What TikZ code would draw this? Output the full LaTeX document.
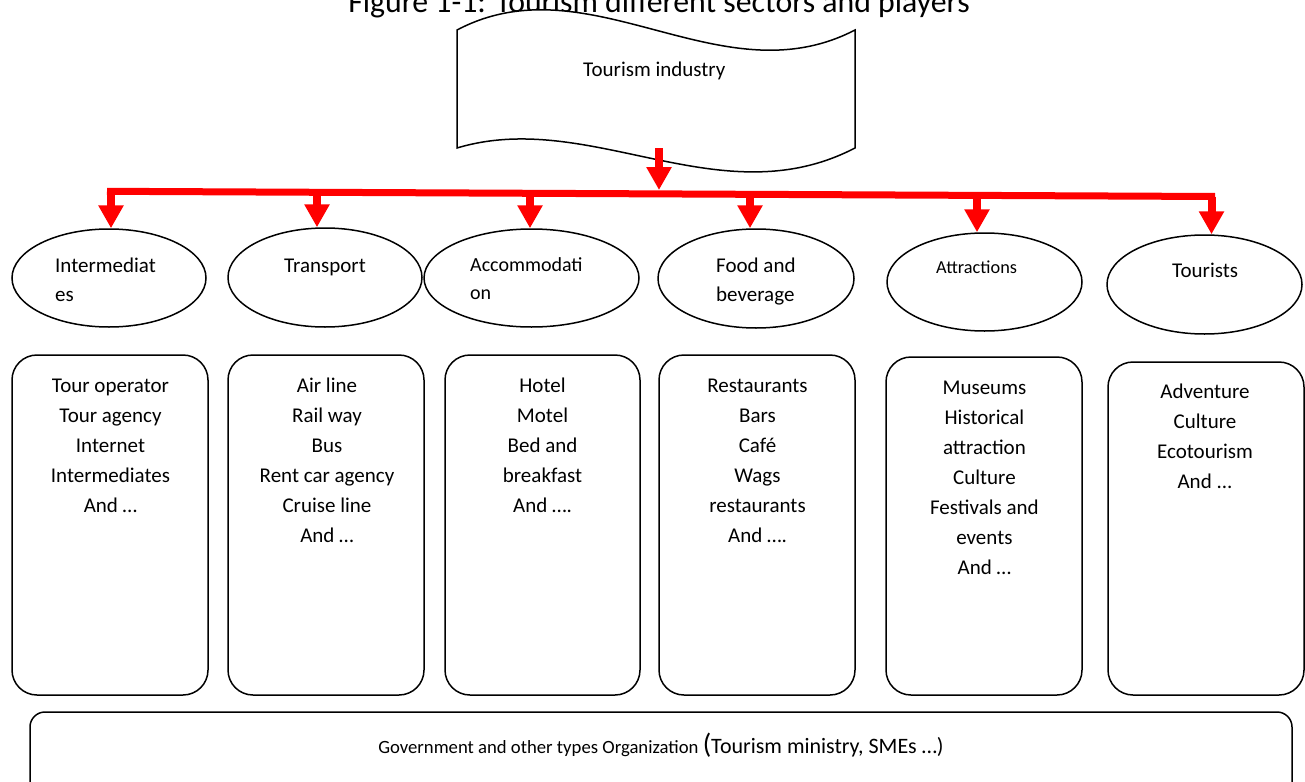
\documentclass[tikz,border=0pt]{standalone}
\usepackage{fontspec}
\setmainfont{Carlito}
\usetikzlibrary{shapes.geometric,arrows.meta}

\begin{document}
\begin{tikzpicture}[x=1pt,y=-1pt,
  sector/.style={draw, ellipse, inner sep=0pt, line width=1.5pt},
  listbox/.style={draw, rectangle, rounded corners=25pt, inner sep=0pt, line width=1.5pt},
  drop/.style={draw=red, line width=8pt, -{Triangle[width=24pt,length=23pt]}},
  bus/.style={draw=red, line width=7pt},
  lbl/.style={font=\fontsize{21}{29}\selectfont, inner sep=0pt, anchor=base west},
  listtxt/.style={font=\fontsize{21}{30}\selectfont, align=center, inner sep=0pt, anchor=north}
]
\clip (0,0) rectangle (1305,781);

% caption, partly hidden behind the tape
\node[font=\fontsize{31.8}{32}\selectfont, anchor=base, inner sep=0pt] (title) at (659,12.7)
  {Figure 1-1: Tourism different sectors and players};

% punched tape holding the industry name
\draw[fill=white, line width=1.5pt]
  (457,30) .. controls (590,-40) and (720,100) .. (855,30)
  -- (855,148) .. controls (720,218) and (590,108) .. (457,148) -- cycle;
\node[lbl] (industry) at (583,77) {Tourism industry};
\coordinate (tapebot) at (659,148);

% sector ellipses
\node[sector, minimum width=194pt, minimum height=98pt] (e1) at (109,278) {};
\node[sector, minimum width=194pt, minimum height=99pt] (e2) at (325,277.5) {};
\node[sector, minimum width=215pt, minimum height=98pt] (e3) at (531.5,278) {};
\node[sector, minimum width=196pt, minimum height=99pt] (e4) at (756,278.5) {};
\node[sector, minimum width=195pt, minimum height=98pt] (e5) at (984.5,282) {};
\node[sector, minimum width=195pt, minimum height=99pt] (e6) at (1204.5,284.5) {};

\node[lbl] (l1a) at (55,272.7) {Intermediat};
\node[lbl] (l1b) at (55,301.7) {es};
\node[lbl] (l2) at (284,272.7) {Transport};
\node[lbl, font=\fontsize{20}{28}\selectfont] (l3a) at (470,271.7) {Accommodati};
\node[lbl, font=\fontsize{20}{28}\selectfont] (l3b) at (470,299) {on};
\node[lbl] (l4a) at (716,272.3) {Food and};
\node[lbl] (l4b) at (716,301.7) {beverage};
\node[lbl, font=\fontsize{18.3}{26}\selectfont] (l5) at (936,273.3) {Attractions};
\node[lbl] (l6) at (1172,277.7) {Tourists};

% red distribution bus
\coordinate (busL) at (107,191.3);
\coordinate (busR) at (1215,196.5);
\coordinate (hub) at (659,190);
\coordinate (b1) at (111,191.3);
\coordinate (b2) at (317,192.3);
\coordinate (b3) at (530,193.3);
\coordinate (b4) at (750,194.3);
\coordinate (b5) at (977,195.4);
\coordinate (b6) at (1211.5,196.5);

\draw[drop] (tapebot) -- (hub);
\draw[bus] (busL) -- (busR);
\draw[drop] (b1) -- (b1 |- e1.north);
\draw[drop] (b2) -- (b2 |- e2.north);
\draw[drop] (b3) -- (b3 |- e3.north);
\draw[drop] (b4) -- (b4 |- e4.north);
\draw[drop] (b5) -- (b5 |- e5.north);
\draw[drop] (b6) -- (b6 |- e6.north);

% lists of players
\node[listbox, minimum width=196pt, minimum height=340pt] (k1) at (110,525) {};
\node[listbox, minimum width=196pt, minimum height=340pt] (k2) at (326,525) {};
\node[listbox, minimum width=195pt, minimum height=340pt] (k3) at (542.5,525) {};
\node[listbox, minimum width=196pt, minimum height=340pt] (k4) at (757,525) {};
\node[listbox, minimum width=196pt, minimum height=338pt] (k5) at (984,526) {};
\node[listbox, minimum width=196pt, minimum height=333pt] (k6) at (1206,528.5) {};

\node[listtxt] (p1) at (110.5,371) {\strut Tour operator\\Tour agency\\Internet\\Intermediates\\And …};
\node[listtxt] (p2) at (327,371) {\strut Air line\\Rail way\\Bus\\Rent car agency\\Cruise line\\And …};
\node[listtxt] (p3) at (542.5,371) {\strut Hotel\\Motel\\Bed and\\breakfast\\And ….};
\node[listtxt] (p4) at (757.5,371) {\strut Restaurants\\Bars\\Café\\Wags\\restaurants\\And ….};
\node[listtxt] (p5) at (984.4,373) {\strut Museums\\Historical\\attraction\\Culture\\Festivals and\\events\\And …};
\node[listtxt] (p6) at (1205,377) {\strut Adventure\\Culture\\Ecotourism\\And ...};

% government band along the bottom
\node[draw, rectangle, rounded corners=15pt, inner sep=0pt, line width=1.5pt,
      minimum width=1262pt, minimum height=118pt] (gov) at (661,771) {};
\node[anchor=base, inner sep=0pt] (govtxt) at (661,753)
  {{\fontsize{18.7}{20}\selectfont Government and other types Organization }{\fontsize{28}{30}\selectfont(}{\fontsize{22}{24}\selectfont Tourism ministry, SMEs …)}};
\end{tikzpicture}
\end{document}
